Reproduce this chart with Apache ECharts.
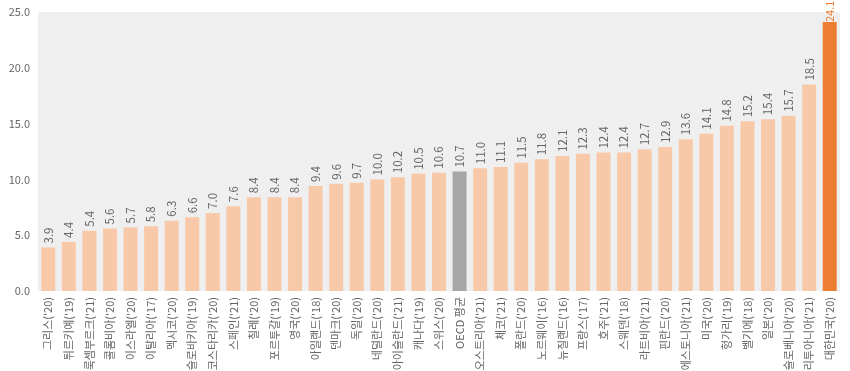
<!DOCTYPE html>
<html><head><meta charset="utf-8">
<script src="https://cdn.jsdelivr.net/npm/echarts@6/dist/echarts.min.js"></script>
<style>html,body{margin:0;padding:0;background:#fff}#c{width:850px;height:371px}</style>
</head><body><div id="c"></div>
<script>
const categories = ["그리스('20)","튀르키예('19)","룩셈부르크('21)","콜롬비아('20)","이스라엘('20)","이탈리아('17)","멕시코('20)","슬로바키아('19)","코스타리카('20)","스페인('21)","칠레('20)","포르투갈('19)","영국('20)","아일랜드('18)","덴마크('20)","독일('20)","네덜란드('20)","아이슬란드('21)","캐나다('19)","스위스('20)","OECD 평균","오스트리아('21)","체코('21)","폴란드('20)","노르웨이('16)","뉴질랜드('16)","프랑스('17)","호주('21)","스웨덴('18)","라트비아('21)","핀란드('20)","에스토니아('21)","미국('20)","헝가리('19)","벨기에('18)","일본('20)","슬로베니아('20)","리투아니아('21)","대한민국('20)"];
const values = [3.9,4.4,5.4,5.6,5.7,5.8,6.3,6.6,7.0,7.6,8.4,8.4,8.4,9.4,9.6,9.7,10.0,10.2,10.5,10.6,10.7,11.0,11.1,11.5,11.8,12.1,12.3,12.4,12.4,12.7,12.9,13.6,14.1,14.8,15.2,15.4,15.7,18.5,24.1];
const highlightOECD = "OECD 평균";
const highlightKorea = "대한민국('20)";
const font = "'Noto Sans CJK KR', 'Noto Sans', sans-serif";
const data = values.map((v, i) => {
  const c = categories[i];
  if (c === highlightOECD) return {value: v, itemStyle: {color: '#a6a6a6'}};
  if (c === highlightKorea) return {value: v, itemStyle: {color: '#ed7d31'}, label: {color: '#ed7d31', distance: 0, fontSize: 11}};
  return v;
});
const chart = echarts.init(document.getElementById('c'));
chart.setOption({
  animation: false,
  textStyle: {fontFamily: font},
  grid: {left: 38, right: 10, top: 12, bottom: 80, show: true, backgroundColor: '#efefef', borderWidth: 0,
    containLabel: false, outerBoundsMode: 'none'},
  xAxis: {
    type: 'category', data: categories,
    axisLine: {show: false}, axisTick: {show: false},
    axisLabel: {rotate: 90, interval: 0, color: '#666666', fontSize: 11, fontFamily: font, margin: 6}
  },
  yAxis: {
    type: 'value', min: 0, max: 25, interval: 5,
    splitLine: {show: false}, axisLine: {show: false}, axisTick: {show: false},
    axisLabel: {color: '#666666', fontSize: 11, fontFamily: font, formatter: v => v.toFixed(1), margin: 8}
  },
  series: [{
    type: 'bar', data: data, barCategoryGap: '32%',
    itemStyle: {color: '#f8c9a9'},
    label: {show: true, position: 'top', rotate: 90, align: 'left', verticalAlign: 'middle', distance: 4,
      color: '#666666', fontSize: 11.5, fontFamily: font, formatter: p => p.value.toFixed(1)}
  }]
});
</script></body></html>
